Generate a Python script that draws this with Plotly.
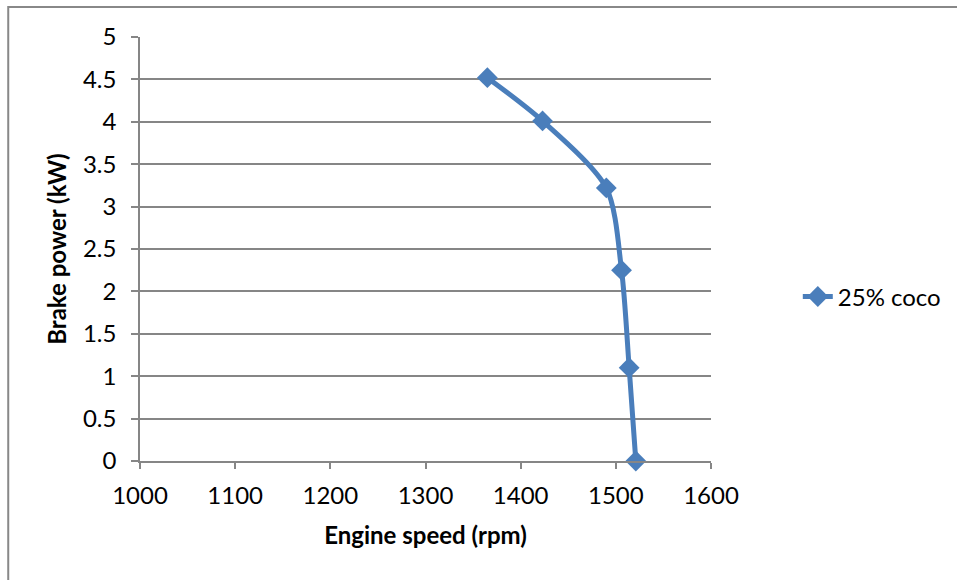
import plotly.graph_objects as go

# Brake power versus engine speed for the 25% coconut blend
engine_speed = [1365, 1423, 1490, 1506, 1514, 1521]
brake_power = [4.52, 4.01, 3.22, 2.25, 1.10, 0.0]
series_name = "25% coco"

x_ticks = [1000, 1100, 1200, 1300, 1400, 1500, 1600]
y_ticks = [0, 0.5, 1, 1.5, 2, 2.5, 3, 3.5, 4, 4.5, 5]
y_tick_text = ["0", "0.5", "1", "1.5", "2", "2.5", "3", "3.5", "4", "4.5", "5"]

BLUE = "#4a7ebb"
GRID = "#868686"
FONT = "Lato, Carlito, 'Open Sans', sans-serif"
SIZE = 24

fig = go.Figure()
fig.add_trace(go.Scatter(
    x=engine_speed,
    y=brake_power,
    name=series_name,
    mode="lines+markers",
    line=dict(color=BLUE, width=5, shape="spline", smoothing=0.8),
    marker=dict(symbol="diamond", size=16, color=BLUE),
    cliponaxis=False,
))

fig.update_layout(
    width=957,
    height=580,
    margin=dict(l=140, r=245, t=37, b=119),
    paper_bgcolor="white",
    plot_bgcolor="white",
    font=dict(family=FONT, size=SIZE, color="black"),
    showlegend=True,
    legend=dict(
        x=1.15, xanchor="left", y=0.387, yanchor="middle",
        font=dict(family=FONT, size=SIZE, color="black"),
        bgcolor="rgba(0,0,0,0)",
    ),
    xaxis=dict(
        range=[1000, 1600],
        tickvals=x_ticks,
        ticktext=[str(v) for v in x_ticks],
        showgrid=False,
        zeroline=False,
        showline=True, linecolor=GRID, linewidth=1.5,
        ticks="outside", ticklen=6, tickcolor=GRID, tickwidth=1.5,
        ticklabelstandoff=6,
        title=dict(text="<b>Engine speed (rpm)</b>", font=dict(family=FONT, size=SIZE), standoff=20),
    ),
    yaxis=dict(
        range=[0, 5],
        tickvals=y_ticks,
        ticktext=y_tick_text,
        showgrid=True, gridcolor=GRID, gridwidth=1.5,
        zeroline=False,
        showline=True, linecolor=GRID, linewidth=1.5,
        ticks="outside", ticklen=7, tickcolor=GRID, tickwidth=1.5,
        ticklabelstandoff=10,
        title=dict(text="<b>Brake power (kW)</b>", font=dict(family=FONT, size=SIZE), standoff=10),
    ),
    shapes=[
        dict(type="rect", xref="paper", yref="paper",
             x0=-140 / 572 + 8 / 572, x1=1.5, y0=-1, y1=1 + 30 / 424,
             line=dict(color="#888888", width=2), fillcolor="rgba(0,0,0,0)", layer="below"),
    ],
)

fig.write_html("out.html")
